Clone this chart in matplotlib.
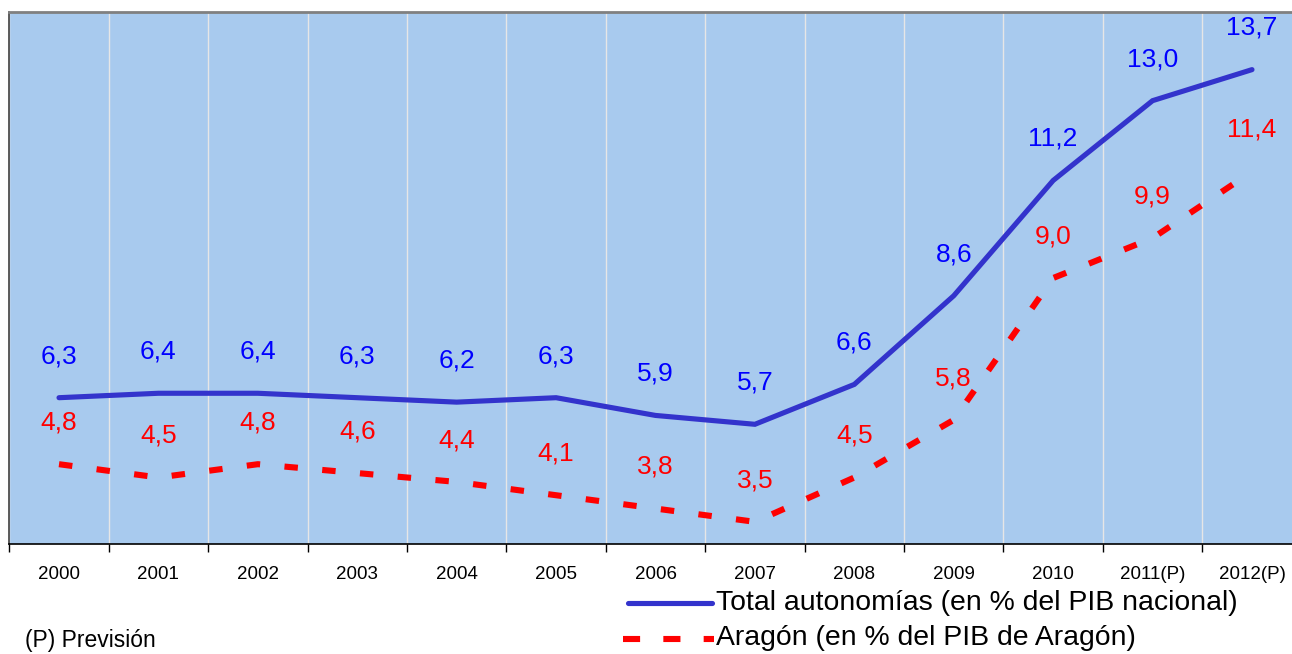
import matplotlib
matplotlib.use("Agg")
import matplotlib.pyplot as plt
from matplotlib.lines import Line2D
import numpy as np

years = ["2000", "2001", "2002", "2003", "2004", "2005", "2006", "2007",
         "2008", "2009", "2010", "2011(P)", "2012(P)"]
total = [6.3, 6.4, 6.4, 6.3, 6.2, 6.3, 5.9, 5.7, 6.6, 8.6, 11.2, 13.0, 13.7]
aragon = [4.8, 4.5, 4.8, 4.6, 4.4, 4.1, 3.8, 3.5, 4.5, 5.8, 9.0, 9.9, 11.4]
legend_labels = ["Total autonomías (en % del PIB nacional)",
                 "Aragón (en % del PIB de Aragón)"]
note = "(P) Previsión"

plt.rcParams['font.family'] = ['Liberation Sans', 'DejaVu Sans']

W, H = 1292, 654
fig = plt.figure(figsize=(W / 100, H / 100), dpi=100)
fig.patch.set_facecolor("white")

x0, x1 = 9.3, 1301.7
y_top, y_bot = 12, 544
ax = fig.add_axes([x0 / W, 1 - y_bot / H, (x1 - x0) / W, (y_bot - y_top) / H])
ax.set_facecolor("#A8CAEE")

x = np.arange(len(years))
ax.plot(x, total, color="#3333CC", lw=3.7, solid_capstyle="round", solid_joinstyle="miter", zorder=3)
ax.plot(x, aragon, color="#FF0000", lw=4.4, dashes=(2.2, 4.0), dash_capstyle="butt", zorder=3)

for xi, v in zip(x, total):
    ax.annotate(f"{v:.1f}".replace(".", ","), (xi, v), xytext=(0, 30), textcoords="offset points",
                ha="center", va="center", color="#0000FF", fontsize=19)
for xi, v in zip(x, aragon):
    ax.annotate(f"{v:.1f}".replace(".", ","), (xi, v), xytext=(0, 30), textcoords="offset points",
                ha="center", va="center", color="#FF0000", fontsize=19)

ax.set_xlim(-0.5, len(years) - 0.5)
ax.set_ylim(3, 15)
ax.set_xticks(np.arange(-0.5, len(years), 1.0))
ax.set_xticklabels([])
ax.set_xticks(x, minor=True)
ax.set_xticklabels(years, minor=True, fontsize=13.5)
ax.tick_params(axis="x", which="major", length=6, width=1, color="black", direction="out")
ax.tick_params(axis="x", which="minor", length=0, pad=16)
ax.set_yticks([])
ax.grid(axis="x", which="major", color="#E6E6E6", lw=1)
ax.set_axisbelow(True)

ax.spines["bottom"].set_color("black")
ax.spines["bottom"].set_linewidth(1.2)
ax.spines["top"].set_color("#808080")
ax.spines["top"].set_linewidth(2)
ax.spines["left"].set_color("#404040")
ax.spines["left"].set_linewidth(1.2)
ax.spines["right"].set_visible(False)

# legend (manual)
fig.add_artist(Line2D([628 / W, 712 / W], [1 - 603 / H, 1 - 603 / H], color="#3333CC", lw=3.7,
                      solid_capstyle="round"))
fig.add_artist(Line2D([623 / W, 714 / W], [1 - 639 / H, 1 - 639 / H], color="#FF0000", lw=4.4,
                      dashes=(2.8, 3.8), dash_capstyle="butt"))
fig.text(716 / W, 1 - 603 / H, legend_labels[0], fontsize=20.4, ha="left", va="center", color="black")
fig.text(716 / W, 1 - 638 / H, legend_labels[1], fontsize=20.4, ha="left", va="center", color="black")
fig.text(25 / W, 1 - 640 / H, note, fontsize=16.5, ha="left", va="center", color="black")

fig.savefig("out.png", dpi=100, facecolor="white")
